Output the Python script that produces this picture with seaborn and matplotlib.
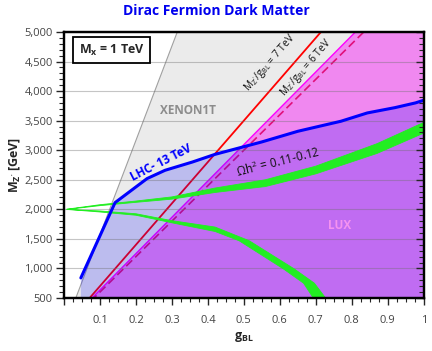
import numpy as np
import matplotlib
matplotlib.use("Agg")
import matplotlib.pyplot as plt
from matplotlib.ticker import MultipleLocator, FuncFormatter
import seaborn as sns

# --- data ---
# XENON1T excluded region, left edge (g_BL, M_Z')
xenon_g = [0.033, 0.315]
xenon_m = [500, 5000]

# LUX excluded region, left edge
lux_g = [0.078, 0.81]
lux_m = [500, 5000]

# LHC 13 TeV bound
lhc_g = [0.047, 0.142, 0.231, 0.281, 0.357, 0.42, 0.55, 0.65, 0.77, 0.843, 0.92, 0.977, 1.0]
lhc_m = [840, 2113, 2520, 2660, 2800, 2930, 3140, 3320, 3490, 3630, 3720, 3800, 3845]

# M_Z'/g_BL lines (GeV)
ratios = [7000, 6000]

# relic band, upper branch: lower and upper edges
up_g = [0.008, 0.1, 0.2, 0.3, 0.42, 0.56, 0.70, 0.87, 1.0]
up_lo = [1998, 2062, 2118, 2172, 2285, 2385, 2600, 2945, 3290]
up_hi = [2002, 2078, 2140, 2210, 2360, 2500, 2730, 3110, 3470]

# relic band, lower branch: outer edge then inner edge
low_out_g = [0.008, 0.1, 0.2, 0.3, 0.42, 0.515, 0.64, 0.696, 0.727]
low_out_m = [2000, 1972, 1925, 1808, 1700, 1468, 992, 750, 500]
low_in_g = [0.693, 0.666, 0.61, 0.487, 0.42, 0.3, 0.2, 0.1, 0.008]
low_in_m = [500, 750, 992, 1468, 1625, 1772, 1900, 1955, 1998]

sns.set_theme(style="white")
plt.rcParams['font.family'] = ['Open Sans', 'DejaVu Sans']
plt.rcParams['mathtext.fontset'] = 'custom'
plt.rcParams['mathtext.rm'] = 'Open Sans'
plt.rcParams['mathtext.it'] = 'Open Sans'
plt.rcParams['mathtext.bf'] = 'Open Sans:bold'

fig = plt.figure(figsize=(4.32, 3.51), dpi=100)
ax = fig.add_axes([0.148, 0.151, 0.833, 0.758])
ax.set_xlim(0, 1)
ax.set_ylim(500, 5000)

# XENON1T (gray)
ax.fill(xenon_g + [1, 1], xenon_m + [5000, 500], facecolor='#ebebeb',
        edgecolor='#a0a0a0', lw=0.8, zorder=1)

# ratio lines
gg = np.array([0.0, 1.0])
ax.plot(gg, ratios[0] * gg, color='#ff0000', lw=1.3, zorder=1.1)

# LUX (pink)
ax.fill(lux_g + [1, 1], lux_m + [5000, 500], facecolor='#f088f0',
        edgecolor='#ff00ff', lw=1.0, zorder=1.2)
ax.plot(gg, ratios[1] * gg, color='#e0107a', lw=1.2, ls=(0, (5, 2.5)), zorder=1.3)

# LHC region (translucent blue)
ax.fill([lhc_g[0]] + lhc_g + [1], [500] + lhc_m + [500], facecolor='#0000ff',
        alpha=0.2, lw=0, zorder=1.4)

# grid
for yv in range(1000, 5001, 500):
    ax.axhline(yv, color='#707070', alpha=0.4, lw=0.8, zorder=2.5)

# relic density band
ax.fill(up_g + up_g[::-1], up_lo + up_hi[::-1], color='#22ee22', lw=0.6, zorder=3)
ax.fill(low_out_g + low_in_g, low_out_m + low_in_m, color='#22ee22', lw=0.6, zorder=3)

# LHC line
sns.lineplot(x=lhc_g, y=lhc_m, sort=False, color='#0000ff', lw=2.2, ax=ax, zorder=3.5)

# texts
ax.text(0.345, 3675, 'XENON1T', color='#8c8c8c', fontsize=8.5, fontweight='bold',
        ha='center', va='center', zorder=4)
ax.text(0.27, 2790, 'LHC- 13 TeV', color='#0000ff', fontsize=8.5, fontweight='bold',
        ha='center', va='center', rotation=27, zorder=4)
ax.text(0.572, 4480, r"M$_{Z'}$/g$_{BL}$ = 7 TeV", color='#111111', fontsize=7.3,
        ha='center', va='center', rotation=49, zorder=4)
ax.text(0.672, 4390, r"M$_{Z'}$/g$_{BL}$ = 6 TeV", color='#111111', fontsize=7.3,
        ha='center', va='center', rotation=49, zorder=4)
ax.text(0.596, 2800, r'$\Omega$h$^2$ = 0.11-0.12', color='#111111', fontsize=8.5,
        ha='center', va='center', rotation=14, zorder=4)
ax.text(0.766, 1722, 'LUX', color='#f592f0', fontsize=8.5, fontweight='bold',
        ha='center', va='center', zorder=4)
ax.text(0.133, 0.932, r'M$_\mathbf{x}$ = 1 TeV', transform=ax.transAxes, fontsize=9,
        fontweight='bold', ha='center', va='center', zorder=5,
        bbox=dict(boxstyle='square,pad=0.45', facecolor='white', edgecolor='black', lw=1.3))

fig.suptitle('Dirac Fermion Dark Matter', color='#0000ee', fontsize=10, fontweight='bold',
             x=0.5, y=0.99)
ax.set_xlabel(r'g$_\mathbf{BL}$', fontsize=9, fontweight='bold', labelpad=3)
ax.set_ylabel(r"M$_\mathbf{Z'}$ [GeV]", fontsize=9, fontweight='bold', labelpad=2)

# ticks
ax.xaxis.set_major_locator(MultipleLocator(0.1))
ax.xaxis.set_minor_locator(MultipleLocator(0.025))
ax.yaxis.set_major_locator(MultipleLocator(500))
ax.yaxis.set_minor_locator(MultipleLocator(100))
ax.xaxis.set_major_formatter(FuncFormatter(lambda v, p: '' if v < 0.05 else ('1' if v > 0.95 else f'{v:.1f}')))
ax.yaxis.set_major_formatter(FuncFormatter(lambda v, p: f'{int(v):,}'))
ax.tick_params(axis='x', which='major', direction='out', length=5, width=1, labelsize=8,
               labelcolor='#444444', bottom=True, pad=7)
ax.tick_params(axis='x', which='minor', direction='out', length=3, width=0.8, bottom=True)
ax.tick_params(axis='y', which='major', direction='out', length=6, width=1, labelsize=8,
               labelcolor='#444444', left=True, pad=2)
ax.tick_params(axis='y', which='minor', direction='out', length=3.5, width=0.8, left=True)
# inward ticks on the right edge
ax2 = ax.twinx()
ax2.set_ylim(ax.get_ylim())
ax2.yaxis.set_major_locator(MultipleLocator(500))
ax2.yaxis.set_minor_locator(MultipleLocator(100))
ax2.tick_params(axis='y', which='major', direction='in', length=6, width=1, labelright=False, right=True)
ax2.tick_params(axis='y', which='minor', direction='in', length=3.5, width=0.8, right=True)
for a in (ax, ax2):
    for s in a.spines.values():
        s.set_color('black')
        s.set_linewidth(1.6)
        s.set_zorder(6)

fig.savefig('out.png', dpi=100)
